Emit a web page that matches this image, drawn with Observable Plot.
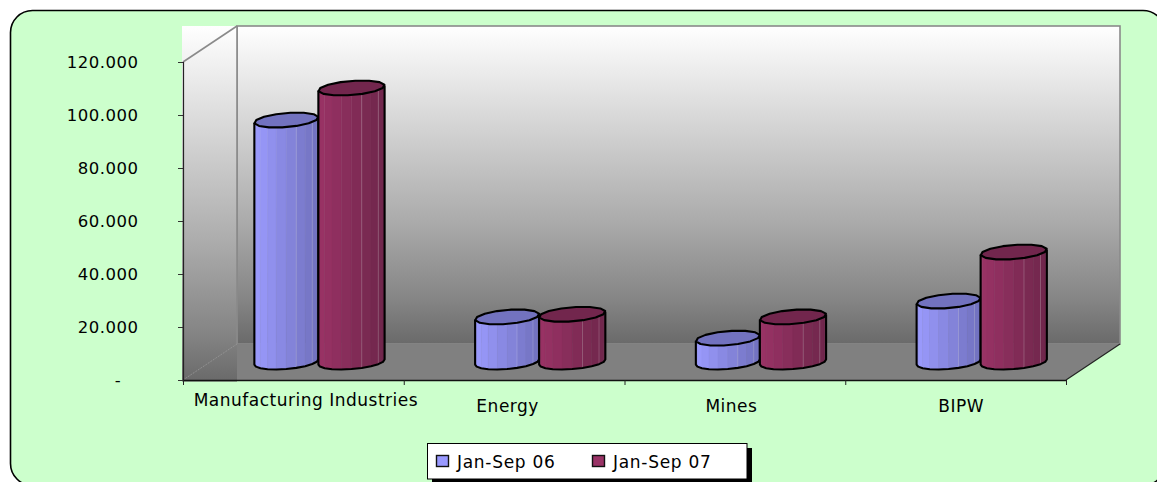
<!DOCTYPE html>
<html>
<head>
<meta charset="utf-8">
<script src="https://cdn.jsdelivr.net/npm/d3@7"></script>
<script src="https://cdn.jsdelivr.net/npm/@observablehq/plot@0.6"></script>
<style>
  html, body { margin: 0; padding: 0; background: #fff; }
  svg { display: block; }
</style>
</head>
<body>
<div id="chart"></div>
<script>
// Values by sector for the two nine-month periods.
const categories = ["Manufacturing Industries", "Energy", "Mines", "BIPW"];
const series = ["Jan-Sep 06", "Jan-Sep 07"];
const valuesJanSep06 = [91300, 17000, 9000, 23000];
const valuesJanSep07 = [103400, 18000, 17000, 41500];
const yTicks = [0, 20000, 40000, 60000, 80000, 100000, 120000];

const FONT = "'DejaVu Sans', 'Comic Sans MS', sans-serif";
const TICK_SIZE = 16.5;
const LABEL_SIZE = 17;
const SIZE = { width: 1157, height: 482 };
const MARGIN = { left: 183, right: 91, top: 62, bottom: 102 };

// Oblique projection of the chart box: the back wall sits this far up and right of the front.
const DEPTH = { x: 54, y: 36 };
// Columns stand halfway into the box.
const MID = { x: DEPTH.x / 2 - 2, y: DEPTH.y / 2 };
const BAR_SHARE = { left: 0.29, right: 0.3 };  // column width as a share of a category slot
const TOP = { skewX: 11, ry: 7.5 };

const PALETTE = {
  [series[0]]: { light: "#9c9cff", dark: "#7070bd", top: "#7272bf", swatch: "#9999ff" },
  [series[1]]: { light: "#9b3366", dark: "#6e264b", top: "#72264d", swatch: "#993366" }
};

// Category label placement relative to the slot centre on the floor line.
const LABEL_SHIFT = [
  { dx: 12, dy: 20 }, { dx: -7, dy: 26 }, { dx: -4, dy: 26 }, { dx: 5, dy: 26 }
];

const rows = categories.flatMap((category, i) => [
  { category, series: series[0], value: valuesJanSep06[i], x1: i + 0.5 - BAR_SHARE.left, x2: i + 0.5 },
  { category, series: series[1], value: valuesJanSep07[i], x1: i + 0.5, x2: i + 0.5 + BAR_SHARE.right }
]);

const svgEl = (name) => d3.create(`svg:${name}`);

// Rounded panel behind the whole chart; it runs past the right and bottom edges.
function panel() {
  return svgEl("rect")
    .attr("x", 10.5).attr("y", 10.5)
    .attr("width", 1154.5).attr("height", 475).attr("rx", 22)
    .attr("fill", "#ccffcc").attr("stroke", "#000").attr("stroke-width", 1.6)
    .node();
}

// Walls and floor of the box, anchored on the scales' extremes.
function box(index, { x, y }) {
  const x0 = x(0), x1 = x(4), y0 = y(0), yMax = y(120000);
  const g = svgEl("g");
  const grad = g.append("defs").append("linearGradient").attr("id", "wall")
    .attr("x1", 0).attr("x2", 0).attr("y1", 0).attr("y2", 1);
  [[0, "#ffffff"], [0.6, "#adadad"], [0.86, "#858585"], [1, "#6a6a6a"]].forEach(([offset, colour]) =>
    grad.append("stop").attr("offset", offset).attr("stop-color", colour));

  // back wall
  g.append("rect")
    .attr("x", x0 + DEPTH.x).attr("y", yMax - DEPTH.y)
    .attr("width", x1 - x0).attr("height", y0 - yMax)
    .attr("fill", "url(#wall)").attr("stroke", "#8a8a8a").attr("stroke-width", 1.6);
  // floor
  g.append("path")
    .attr("d", `M${x0},${y0}L${x0 + DEPTH.x},${y0 - DEPTH.y}L${x1 + DEPTH.x},${y0 - DEPTH.y}L${x1},${y0}Z`)
    .attr("fill", "#808080");
  // side wall band, square to the page and lying over the floor's corner
  g.append("rect")
    .attr("x", x0 - 1).attr("y", yMax - DEPTH.y)
    .attr("width", DEPTH.x + 1).attr("height", y0 - yMax + DEPTH.y + 1.5)
    .attr("fill", "url(#wall)");
  // edges
  g.append("path")
    .attr("d", `M${x0 + DEPTH.x},${yMax - DEPTH.y}V${y0 - DEPTH.y}`)
    .attr("stroke", "#8a8a8a").attr("stroke-width", 1.6).attr("fill", "none");
  g.append("path")
    .attr("d", `M${x0},${yMax}L${x0 + DEPTH.x},${yMax - DEPTH.y}`)
    .attr("stroke", "#8a8a8a").attr("stroke-width", 1.6).attr("fill", "none");
  g.append("path")
    .attr("d", `M${x0},${y0}L${x0 + DEPTH.x},${y0 - DEPTH.y}`)
    .attr("stroke", "#9a9a9a").attr("stroke-dasharray", "1 1").attr("fill", "none");
  g.append("path")
    .attr("d", `M${x1},${y0}L${x1 + DEPTH.x},${y0 - DEPTH.y}`)
    .attr("stroke", "#222").attr("stroke-width", 1.2).attr("fill", "none");
  return g.node();
}

// Turns each rect produced by Plot into a faceted cylinder seen from above.
function cylinders(index, scales, { x1, x2, y1, y2 }) {
  const g = svgEl("g");
  for (const i of index) {
    const row = rows[i];
    const colors = PALETTE[row.series];
    const cx = (x1[i] + x2[i]) / 2 + MID.x;
    const rx = Math.sqrt(Math.max(1, ((x2[i] - x1[i]) / 2) ** 2 - TOP.skewX ** 2));
    const baseY = y1[i] - MID.y;
    const topY = y2[i] - MID.y;
    const pt = (t, cy) => [
      cx + rx * Math.cos(t) - TOP.skewX * Math.sin(t),
      cy + TOP.ry * Math.sin(t)
    ];
    const tRight = Math.atan2(-TOP.skewX, rx);
    const tLeft = tRight + Math.PI;
    const FACETS = 10;
    const tAt = (k) => tLeft - (Math.PI * k) / FACETS;   // front arc, left to right
    const shade = d3.scaleLinear()
      .domain([cx - (x2[i] - x1[i]) / 2, cx + (x2[i] - x1[i]) / 2])
      .range([colors.light, colors.dark]);

    for (let k = 0; k < FACETS; k++) {
      const a = tAt(k), b = tAt(k + 1);
      const p = [pt(a, topY), pt(b, topY), pt(b, baseY), pt(a, baseY)];
      const colour = shade((p[0][0] + p[1][0]) / 2);
      g.append("path")
        .attr("d", `M${p.join("L")}Z`)
        .attr("fill", colour).attr("stroke", colour).attr("stroke-width", 0.4);
    }
    // seams catching the light near the right side
    for (const k of [6, 8]) {
      const a = pt(tAt(k), topY), b = pt(tAt(k), baseY);
      g.append("path").attr("d", `M${a}L${b}`)
        .attr("stroke", "#fff").attr("stroke-opacity", 0.2).attr("stroke-width", 1);
    }
    // silhouette
    const front = d3.range(FACETS + 1).map((k) => pt(tAt(k), baseY));
    const outline = [pt(tLeft, topY), ...front, pt(tRight, topY)];
    g.append("path")
      .attr("d", `M${outline.join("L")}`)
      .attr("fill", "none").attr("stroke", "#000").attr("stroke-width", 2.1)
      .attr("stroke-linejoin", "round");
    // lid
    const lid = d3.range(14).map((k) => pt((k * 2 * Math.PI) / 14, topY));
    g.append("path")
      .attr("d", `M${lid.join("L")}Z`)
      .attr("fill", colors.top).attr("stroke", "#000").attr("stroke-width", 2.1)
      .attr("stroke-linejoin", "round");
  }
  return g.node();
}

// Boxed key with a hard drop shadow, set over the lower part of the panel.
function key() {
  const g = svgEl("g");
  g.append("rect").attr("x", 432).attr("y", 448).attr("width", 320).attr("height", 34).attr("fill", "#000");
  g.append("rect").attr("x", 427.5).attr("y", 443.5).attr("width", 319.5).attr("height", 35.5)
    .attr("fill", "#fff").attr("stroke", "#000").attr("stroke-width", 1);
  [[436, 457], [592, 613]].forEach(([sx, tx], i) => {
    g.append("rect").attr("x", sx + 0.5).attr("y", 455.5).attr("width", 12).attr("height", 11)
      .attr("fill", PALETTE[series[i]].swatch).attr("stroke", "#111").attr("stroke-width", 1.4);
    g.append("text").attr("x", tx).attr("y", 468)
      .attr("text-anchor", "start")
      .attr("font-family", FONT).attr("font-size", LABEL_SIZE)
      .attr("letter-spacing", 0.7).attr("fill", "#000")
      .text(series[i]);
  });
  return g.node();
}

const numberLocale = d3.formatLocale({ decimal: ",", thousands: ".", grouping: [3], currency: ["", ""] });
const thousands = numberLocale.format(",d");

const chart = Plot.plot({
  ...SIZE,
  marginLeft: MARGIN.left, marginRight: MARGIN.right,
  marginTop: MARGIN.top, marginBottom: MARGIN.bottom,
  style: { background: "#fff", fontFamily: FONT, color: "#000", overflow: "hidden", letterSpacing: "0.5px" },
  x: { type: "linear", domain: [0, categories.length] },
  y: { domain: [0, 120000] },
  marks: [
    panel,
    box,
    Plot.axisY({
      ticks: yTicks,
      tickFormat: (v) => (v === 0 ? "-\u00a0\u00a0\u00a0" : thousands(v)),
      tickSize: 5, tickPadding: 40, label: null,
      fontSize: TICK_SIZE, stroke: "#333", fill: "#000"
    }),
    Plot.ruleX([0], { stroke: "#222", strokeWidth: 1.2 }),
    Plot.ruleY([0], { stroke: "#111", strokeWidth: 1.4 }),
    Plot.axisX({
      ticks: d3.range(categories.length + 1),
      tickFormat: () => "", tickSize: 5, label: null, stroke: "#222"
    }),
    Plot.rect(rows, { x1: "x1", x2: "x2", y1: 0, y2: "value", render: cylinders }),
    ...categories.map((name, i) =>
      Plot.text([name], {
        x: i + 0.5, y: 0, text: (d) => d,
        dx: LABEL_SHIFT[i].dx, dy: LABEL_SHIFT[i].dy,
        fontSize: LABEL_SIZE, fill: "#000"
      })
    ),
    key
  ]
});

document.getElementById("chart").append(chart);
</script>
</body>
</html>
